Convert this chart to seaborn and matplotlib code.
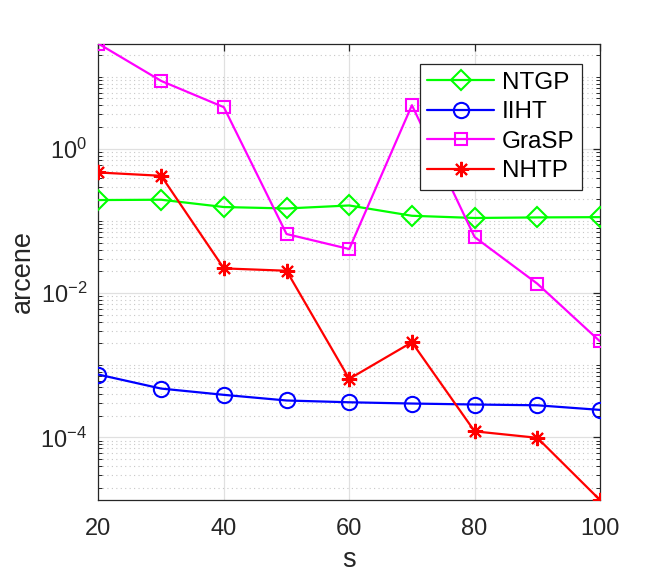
import numpy as np
import pandas as pd
import matplotlib
matplotlib.use("Agg")
import matplotlib.pyplot as plt
import matplotlib.ticker as mticker
import seaborn as sns

s = [20, 30, 40, 50, 60, 70, 80, 90, 100]
ntgp = [0.195, 0.197, 0.156, 0.149, 0.164, 0.118, 0.110, 0.112, 0.113]
iiht = [7.41e-4, 4.74e-4, 3.88e-4, 3.24e-4, 3.06e-4, 2.94e-4, 2.85e-4, 2.78e-4, 2.40e-4]
grasp = [28.7, 8.75, 3.78, 0.0659, 0.0408, 4.03, 0.0598, 0.0135, 0.00214]
nhtp = [0.470, 0.423, 0.0220, 0.0204, 6.46e-4, 2.08e-3, 1.21e-4, 9.84e-5, 1.35e-5]
names = ["NTGP", "IIHT", "GraSP", "NHTP"]
xticks = [20, 40, 60, 80, 100]

sns.set_theme(style="white")
plt.rcParams['font.family'] = ['Liberation Sans', 'DejaVu Sans']

fig = plt.figure(figsize=(6.64, 5.79), dpi=100)
ax = fig.add_axes([0.1483, 0.1364, 0.7553, 0.7881])

series = [ntgp, iiht, grasp, nhtp]
colors = ["#00ff00", "#0000ff", "#ff00ff", "#ff0000"]
markers = ["D", "o", "s", (8, 2, 0)]
msizes = [10, 11, 9, 11]
for vals, name, c, m, ms in zip(series, names, colors, markers, msizes):
    sns.lineplot(x=s, y=vals, ax=ax, color=c, marker=m, markersize=ms,
                 mfc='none', mec=c, mew=1.5, lw=1.6, label=name, zorder=3)

ax.set_yscale('log')
ax.set_xlim(20, 100)
allv = ntgp + iiht + grasp + nhtp
ax.set_ylim(min(allv), max(allv))
ax.set_xticks(xticks)
ax.set_xticklabels([str(t) for t in xticks])
ax.yaxis.set_major_locator(mticker.FixedLocator([1e-4, 1e-2, 1e0]))
ax.yaxis.set_major_formatter(mticker.FuncFormatter(lambda v, p: r"$\mathregular{10^{%d}}$" % int(round(np.log10(v)))))
minors = []
for k in range(-6, 3):
    for m in range(1, 10):
        v = m * 10.0 ** k
        if m == 1 and k in (-4, -2, 0):
            continue
        minors.append(v)
ax.yaxis.set_minor_locator(mticker.FixedLocator(minors))
ax.yaxis.set_minor_formatter(mticker.NullFormatter())

ax.grid(True, which='major', color='#e0e0e0', lw=0.9, ls='-')
ax.grid(True, which='minor', axis='y', color='#c8c8c8', lw=0.8, ls=(0, (1, 3)))
ax.set_axisbelow(True)

for sp in ax.spines.values():
    sp.set_color('#262626')
    sp.set_linewidth(0.9)
ax.tick_params(axis='x', which='major', direction='in', length=5, width=0.9,
               colors='#262626', labelsize=17, top=True, pad=13)
ax.tick_params(axis='y', which='major', direction='in', length=5, width=0.9,
               colors='#262626', labelsize=17, right=True, pad=8)
ax.tick_params(axis='y', which='minor', direction='in', length=3, width=0.7,
               colors='#262626', left=True, right=True)
ax.tick_params(axis='x', which='minor', bottom=False, top=False)

ax.set_xlabel("s", fontsize=19.5, color='#262626', labelpad=5)
ax.set_ylabel("arcene", fontsize=19.5, color='#262626', labelpad=3)

leg = ax.legend(loc='upper right', bbox_to_anchor=(0.964, 0.9555), fontsize=17.5,
                frameon=True, fancybox=False, edgecolor='#262626', framealpha=1,
                handlelength=2.75, borderpad=0.32, labelspacing=0.31, handletextpad=0.3,
                borderaxespad=0)
leg.get_frame().set_linewidth(0.9)
for t in leg.get_texts():
    t.set_color('black')

fig.savefig("out.png", dpi=100)
